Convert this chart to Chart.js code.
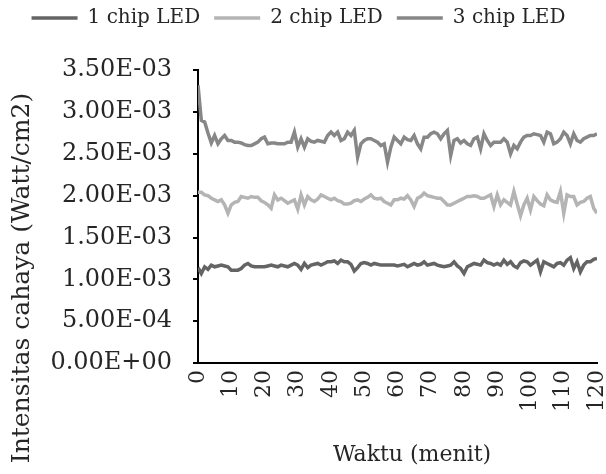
<!DOCTYPE html>
<html>
<head>
<meta charset="utf-8">
<script src="https://cdn.jsdelivr.net/npm/chart.js@4.4.1/dist/chart.umd.min.js"></script>
<style>
  html, body { margin: 0; padding: 0; background: #fff; }
  #chart { display: block; }
</style>
</head>
<body>
<canvas id="chart" width="606" height="474"></canvas>
<script>
// time axis (menit)
var minutes = [
  0, 1, 2, 3, 4, 5, 6, 7, 8, 9,
  10, 11, 12, 13, 14, 15, 16, 17, 18, 19,
  20, 21, 22, 23, 24, 25, 26, 27, 28, 29,
  30, 31, 32, 33, 34, 35, 36, 37, 38, 39,
  40, 41, 42, 43, 44, 45, 46, 47, 48, 49,
  50, 51, 52, 53, 54, 55, 56, 57, 58, 59,
  60, 61, 62, 63, 64, 65, 66, 67, 68, 69,
  70, 71, 72, 73, 74, 75, 76, 77, 78, 79,
  80, 81, 82, 83, 84, 85, 86, 87, 88, 89,
  90, 91, 92, 93, 94, 95, 96, 97, 98, 99,
  100, 101, 102, 103, 104, 105, 106, 107, 108, 109,
  110, 111, 112, 113, 114, 115, 116, 117, 118, 119,
  120
];

// light intensity, in units of 1E-03 Watt/cm2
var chip1 = [
  1.14, 1.07, 1.15, 1.12, 1.17, 1.15, 1.16, 1.17, 1.16, 1.15,
  1.11, 1.11, 1.11, 1.13, 1.17, 1.19, 1.16, 1.15, 1.15, 1.15,
  1.15, 1.16, 1.17, 1.16, 1.15, 1.17, 1.16, 1.15, 1.17, 1.19,
  1.17, 1.12, 1.19, 1.14, 1.17, 1.18, 1.19, 1.17, 1.19, 1.21,
  1.21, 1.22, 1.19, 1.23, 1.21, 1.21, 1.18, 1.10, 1.14, 1.19,
  1.20, 1.19, 1.17, 1.19, 1.18, 1.17, 1.17, 1.17, 1.17, 1.17,
  1.16, 1.17, 1.18, 1.15, 1.17, 1.19, 1.17, 1.18, 1.21, 1.17,
  1.18, 1.19, 1.17, 1.16, 1.15, 1.16, 1.17, 1.21, 1.16, 1.13,
  1.07, 1.15, 1.17, 1.19, 1.18, 1.17, 1.23, 1.20, 1.19, 1.17,
  1.19, 1.17, 1.23, 1.18, 1.21, 1.16, 1.14, 1.20, 1.22, 1.21,
  1.17, 1.20, 1.23, 1.09, 1.21, 1.19, 1.17, 1.15, 1.19, 1.20,
  1.17, 1.23, 1.26, 1.13, 1.21, 1.09, 1.17, 1.21, 1.21, 1.24,
  1.25
];
var chip2 = [
  2.04, 2.04, 2.01, 2.00, 1.97, 1.95, 1.93, 1.95, 1.89, 1.79,
  1.89, 1.92, 1.93, 1.99, 1.98, 1.97, 1.99, 1.98, 1.98, 1.94,
  1.92, 1.89, 1.85, 2.01, 1.95, 1.97, 1.94, 1.91, 1.93, 1.95,
  1.84, 2.01, 1.89, 1.99, 1.95, 1.93, 1.96, 2.01, 1.99, 1.97,
  1.95, 1.97, 1.94, 1.93, 1.90, 1.90, 1.91, 1.94, 1.95, 1.93,
  1.96, 1.98, 2.01, 1.97, 1.96, 1.97, 1.93, 1.91, 1.89, 1.95,
  1.95, 1.97, 1.96, 2.00, 1.95, 1.87, 1.97, 1.99, 2.03, 2.00,
  1.99, 1.98, 1.97, 1.97, 1.93, 1.89, 1.89, 1.91, 1.93, 1.95,
  1.97, 1.99, 1.99, 2.00, 1.99, 1.97, 1.97, 1.99, 2.01, 1.87,
  2.01, 1.89, 1.95, 1.92, 1.89, 2.05, 1.90, 1.76, 1.89, 1.97,
  1.83, 1.99, 1.94, 1.90, 1.88, 2.01, 1.95, 1.93, 1.92, 2.05,
  1.79, 2.01, 1.99, 1.99, 1.89, 1.92, 1.93, 1.97, 1.99, 1.85,
  1.79
];
var chip3 = [
  3.32, 2.90, 2.88, 2.75, 2.63, 2.72, 2.62, 2.68, 2.72, 2.66,
  2.66, 2.64, 2.64, 2.63, 2.61, 2.60, 2.60, 2.62, 2.64, 2.68,
  2.70, 2.62, 2.63, 2.63, 2.62, 2.62, 2.62, 2.64, 2.64, 2.76,
  2.58, 2.68, 2.58, 2.68, 2.65, 2.64, 2.66, 2.65, 2.64, 2.72,
  2.76, 2.72, 2.76, 2.66, 2.68, 2.76, 2.72, 2.78, 2.46, 2.62,
  2.66, 2.68, 2.68, 2.66, 2.64, 2.60, 2.62, 2.40, 2.58, 2.70,
  2.66, 2.62, 2.70, 2.67, 2.66, 2.72, 2.62, 2.56, 2.70, 2.70,
  2.74, 2.76, 2.74, 2.68, 2.74, 2.78, 2.48, 2.66, 2.68, 2.63,
  2.66, 2.62, 2.60, 2.68, 2.70, 2.56, 2.74, 2.66, 2.60, 2.64,
  2.64, 2.64, 2.68, 2.64, 2.50, 2.60, 2.56, 2.64, 2.70, 2.72,
  2.72, 2.74, 2.73, 2.72, 2.64, 2.76, 2.74, 2.62, 2.64, 2.68,
  2.76, 2.72, 2.62, 2.74, 2.66, 2.64, 2.68, 2.70, 2.72, 2.72,
  2.74
];

var yTickLabels = ['0.00E+00', '5.00E-04', '1.00E-03', '1.50E-03',
                   '2.00E-03', '2.50E-03', '3.00E-03', '3.50E-03'];

var FONT = '"DejaVu Serif", "Liberation Serif", serif';
var TEXT = '#262626';

function points(series) {
  return minutes.map(function (m, i) { return { x: m, y: series[i] * 1e-3 }; });
}

function lineSet(label, series, color) {
  return {
    label: label,
    data: points(series),
    borderColor: color,
    backgroundColor: color,
    pointBorderColor: color,
    pointBorderWidth: 3.5,
    borderWidth: 3.5,
    pointRadius: 0,
    pointHoverRadius: 0,
    tension: 0,
    fill: false
  };
}

// vertical minute labels under the x axis, plus both axis titles
var axisText = {
  id: 'axisText',
  afterDraw: function (chart) {
    var ctx = chart.ctx;
    var xs = chart.scales.x;
    var top = chart.chartArea.bottom + 7;

    ctx.save();
    ctx.fillStyle = TEXT;
    ctx.textAlign = 'center';
    ctx.textBaseline = 'middle';
    ctx.font = '22px ' + FONT;
    ctx.fillText('Waktu (menit)', 412, 455);

    ctx.font = '25px ' + FONT;
    ctx.translate(22, 278);
    ctx.rotate(-Math.PI / 2);
    ctx.fillText('Intensitas cahaya (Watt/cm2)', 0, 0);
    ctx.rotate(Math.PI / 2);
    ctx.translate(-22, -278);

    ctx.font = '22px ' + FONT;
    xs.ticks.forEach(function (t) {
      var label = String(t.value);
      var w = ctx.measureText(label).width;
      var px = xs.getPixelForValue(t.value);
      ctx.translate(px, top);
      ctx.rotate(-Math.PI / 2);
      ctx.fillText(label, -w / 2, 0);
      ctx.rotate(Math.PI / 2);
      ctx.translate(-px, -top);
    });
    ctx.restore();
  }
};

var ctx = document.getElementById('chart').getContext('2d');
var chart = new Chart(ctx, {
  type: 'line',
  data: {
    datasets: [
      lineSet('1 chip LED', chip1, '#646464'),
      lineSet('2 chip LED', chip2, '#b4b4b4'),
      lineSet('3 chip LED', chip3, '#878787')
    ]
  },
  plugins: [axisText],
  options: {
    responsive: false,
    animation: false,
    layout: { padding: { top: -6, right: 9, bottom: 0, left: 0 } },
    plugins: {
      legend: {
        position: 'top',
        labels: {
          usePointStyle: true,
          pointStyle: 'line',
          pointStyleWidth: 46,
          boxHeight: 17,
          padding: 14,
          color: TEXT,
          font: { family: FONT, size: 20 }
        }
      },
      // empty spacer between legend and plot
      subtitle: {
        display: true,
        text: '',
        weight: 100,
        font: { size: 1 },
        padding: { top: 31, bottom: 0 }
      },
      tooltip: { enabled: false }
    },
    scales: {
      x: {
        type: 'linear',
        min: 0,
        max: 120,
        grid: { display: false, drawTicks: false },
        border: { display: true, color: '#000', width: 2 },
        ticks: { stepSize: 10, display: false },
        afterFit: function (scale) { scale.height = 111; }
      },
      y: {
        min: 0,
        max: 0.0035,
        grid: { drawOnChartArea: false, drawTicks: true, tickLength: 5, color: '#000', lineWidth: 2 },
        border: { display: true, color: '#000', width: 2 },
        ticks: {
          stepSize: 0.0005,
          padding: 21,
          color: TEXT,
          font: { family: FONT, size: 24 },
          callback: function (v, i) { return yTickLabels[i]; }
        },
        afterFit: function (scale) { scale.width = 198; }
      }
    }
  }
});
</script>
</body>
</html>
